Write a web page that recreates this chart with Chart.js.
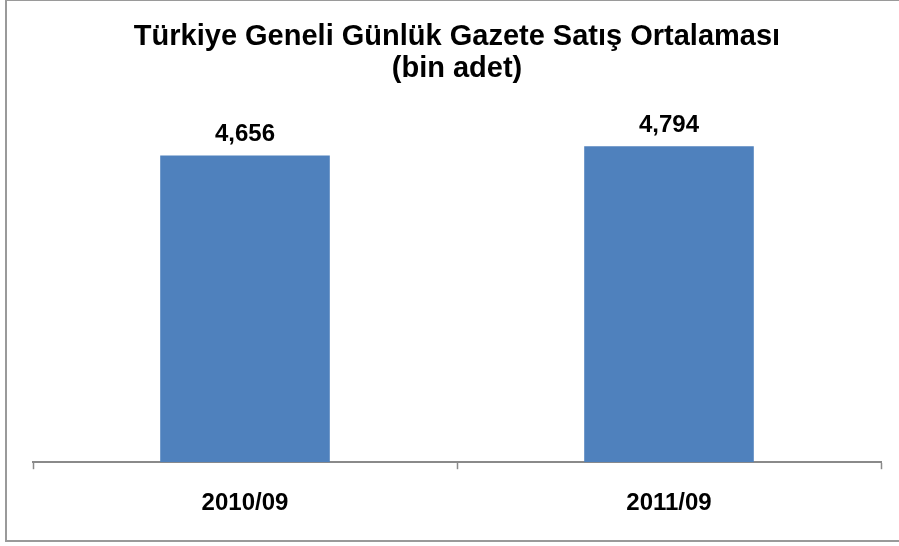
<!DOCTYPE html>
<html>
<head>
<meta charset="utf-8">
<script src="https://cdn.jsdelivr.net/npm/chart.js@4.4.1/dist/chart.umd.min.js"></script>
<style>
  html, body { margin: 0; padding: 0; background: #ffffff; overflow: hidden; }
  #wrap { position: relative; width: 899px; height: 546px; }
  #frame { position: absolute; left: 5px; top: -1px; width: 900px; height: 543px; box-sizing: border-box; border: 2px solid #9a9a9a; pointer-events: none; }
  canvas { position: absolute; left: 0; top: 0; }
</style>
</head>
<body>
<div id="wrap">
  <canvas id="c" width="899" height="546"></canvas>
  <div id="frame"></div>
</div>
<script>
const titleLines = ["Türkiye Geneli Günlük Gazete Satış Ortalaması", "(bin adet)"];
const categories = ["2010/09", "2011/09"];
const salesValues = [4656, 4794];
const yAxisMin = 0;
const yAxisMax = 5000;

const FONT = '"Liberation Sans", Arial, sans-serif';

const valueLabels = {
  id: 'valueLabels',
  afterDatasetsDraw(chart) {
    const ctx = chart.ctx;
    const meta = chart.getDatasetMeta(0);
    ctx.save();
    ctx.font = 'bold 24px ' + FONT;
    ctx.fillStyle = '#000000';
    ctx.textAlign = 'center';
    ctx.textBaseline = 'alphabetic';
    meta.data.forEach((bar, i) => {
      const v = chart.data.datasets[0].data[i];
      ctx.fillText(v.toLocaleString('en-US'), bar.x, bar.y - 14);
    });
    ctx.restore();
  }
};

new Chart(document.getElementById('c'), {
  type: 'bar',
  data: {
    labels: categories,
    datasets: [{
      data: salesValues,
      backgroundColor: '#4F81BD',
      borderWidth: 0,
      categoryPercentage: 1.0,
      barPercentage: 0.4
    }]
  },
  options: {
    responsive: false,
    devicePixelRatio: 1,
    animation: false,
    layout: { padding: { left: 33, right: 18, top: 0, bottom: 8 } },
    plugins: {
      legend: { display: false },
      tooltip: { enabled: false },
      title: {
        display: true,
        text: titleLines,
        color: '#000000',
        font: { family: FONT, size: 29, weight: 'bold', lineHeight: 1.1 },
        padding: { top: 21, bottom: 48 }
      }
    },
    scales: {
      x: {
        grid: {
          display: true,
          drawOnChartArea: false,
          drawTicks: true,
          tickLength: 7,
          tickWidth: 1.5,
          tickColor: '#8a8a8a',
          offset: true
        },
        border: { display: true, color: '#8a8a8a', width: 2 },
        ticks: {
          color: '#000000',
          padding: 20,
          font: { family: FONT, size: 24, weight: 'bold', lineHeight: 1.2 }
        }
      },
      y: {
        display: false,
        min: yAxisMin,
        max: yAxisMax
      }
    }
  },
  plugins: [valueLabels]
});
</script>
</body>
</html>
